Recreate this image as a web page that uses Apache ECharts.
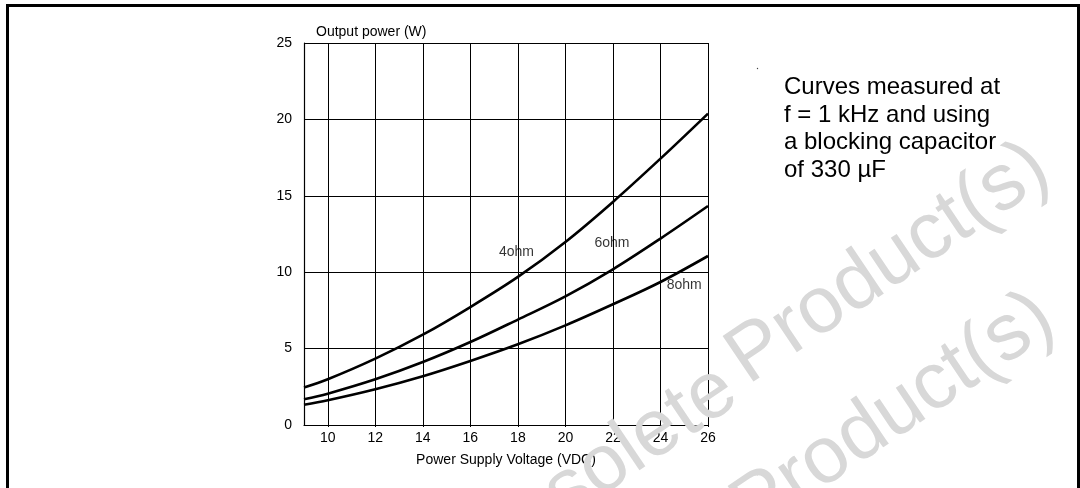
<!DOCTYPE html>
<html>
<head>
<meta charset="utf-8">
<script src="https://cdn.jsdelivr.net/npm/echarts@6/dist/echarts.min.js"></script>
<style>
html,body{margin:0;padding:0;background:#fff;}
#chart{width:1080px;height:488px;}
</style>
</head>
<body>
<div id="chart"></div>
<script>
// ---- data ----
var voltages = [9, 10, 12, 14, 16, 18, 20, 22, 24, 26];
var power4ohm = [2.45, 2.99, 4.34, 5.91, 7.72, 9.69, 11.98, 14.6, 17.43, 20.38];
var power6ohm = [1.68, 2.05, 2.99, 4.12, 5.43, 6.90, 8.42, 10.19, 12.2, 14.33];
var power8ohm = [1.33, 1.62, 2.34, 3.19, 4.19, 5.28, 6.52, 7.90, 9.36, 11.06];
var curveNames = ['4ohm', '6ohm', '8ohm'];
var curveLabelAt = [[17.94, 11.3], [21.96, 11.89], [25.0, 9.14]];
var xTickValues = [10, 12, 14, 16, 18, 20, 22, 24, 26];
var yTickValues = [0, 5, 10, 15, 20, 25];
var xTitle = 'Power Supply Voltage (VDC)';
var yTitle = 'Output power (W)';
var noteLines = ['Curves measured at', 'f = 1 kHz and using', 'a blocking capacitor', 'of 330 \u00b5F'];
var watermarkWords = ['Obsolete', 'Product(s)'];

function pairs(xs, ys) { return xs.map(function (x, i) { return [x, ys[i]]; }); }

var FONT = '"Liberation Sans", Arial, Helvetica, sans-serif';
var chart = echarts.init(document.getElementById('chart'), null, {renderer: 'canvas'});

var lineStyle = {color: '#000', width: 2.6};
var allSeries = [power4ohm, power6ohm, power8ohm].map(function (arr, i) {
  return {
    type: 'line', name: curveNames[i], data: pairs(voltages, arr),
    smooth: 0.35, symbol: 'none', lineStyle: lineStyle, z: 5, silent: true
  };
});
allSeries.push({
  type: 'scatter', name: 'labels', symbolSize: 1, silent: true, z: 6,
  itemStyle: {color: 'rgba(0,0,0,0)'},
  data: curveLabelAt.map(function (p, i) { return [p[0], p[1], curveNames[i]]; }),
  label: {show: true, position: 'inside', formatter: function (p) { return p.value[2]; },
    color: '#000', fontSize: 14, fontFamily: FONT}
});

var noteY0 = 74, noteLH = 27.5;
var wmRot = 34 * Math.PI / 180;
var wmFont = '80px ' + FONT, wmColor = '#d8d8d8';
function watermark(px, py, ox, oy) {
  return [
    {type: 'text', z: 100, x: ox, y: oy, rotation: wmRot,
     style: {text: watermarkWords[0], font: wmFont, fill: wmColor, align: 'right', verticalAlign: 'bottom'}},
    {type: 'text', z: 100, x: px, y: py, rotation: wmRot,
     style: {text: watermarkWords[1], font: wmFont, fill: wmColor, align: 'left', verticalAlign: 'bottom'}}
  ];
}
var graphics = [
  {type: 'polyline', z: 50, shape: {points: [[7.5, 492], [7.5, 5.5], [1078.5, 5.5], [1078.5, 492]]},
   style: {stroke: '#000', lineWidth: 3, fill: null}},
  {type: 'text', z: 40, x: 784, y: noteY0,
   style: {text: noteLines.join('\n'), font: '24px ' + FONT, fill: '#000', lineHeight: noteLH,
           align: 'left', verticalAlign: 'top'}},
  {type: 'circle', z: 40, shape: {cx: 757.5, cy: 68.5, r: 0.7}, style: {fill: '#444'}},
  {type: 'circle', z: 40, shape: {cx: 757.5, cy: 474.5, r: 0.7}, style: {fill: '#444'}}
].concat(watermark(758, 400, 752, 416), watermark(763, 550, 757, 566));

chart.setOption({
  backgroundColor: '#fff',
  animation: false,
  grid: {left: 304, right: 372, top: 43, bottom: 63, containLabel: false, outerBoundsMode: 'none'},
  xAxis: {
    type: 'value', min: 9, max: 26,
    name: xTitle, nameLocation: 'middle', nameGap: 28,
    nameTextStyle: {color: '#000', fontSize: 14, fontFamily: FONT},
    axisLine: {show: true, lineStyle: {color: '#000', width: 1.2}},
    axisTick: {show: true, length: 2, lineStyle: {color: '#000'}, customValues: xTickValues},
    axisLabel: {color: '#000', fontSize: 14, fontFamily: FONT, margin: 6, customValues: xTickValues,
                showMinLabel: true, showMaxLabel: true},
    splitLine: {show: true, lineStyle: {color: '#000', width: 1}}
  },
  yAxis: {
    type: 'value', min: 0, max: 25, interval: 5,
    name: yTitle, nameLocation: 'end', nameGap: 4,
    nameTextStyle: {color: '#000', fontSize: 14, fontFamily: FONT, align: 'left', verticalAlign: 'bottom', padding: [0, 0, 0, 12]},
    axisLine: {show: true, lineStyle: {color: '#000', width: 1.2}},
    axisTick: {show: false},
    axisLabel: {color: '#000', fontSize: 14, fontFamily: FONT, margin: 12,
                formatter: function (v) { return yTickValues.indexOf(v) >= 0 ? String(v) : ''; }},
    splitLine: {show: true, lineStyle: {color: '#000', width: 1}}
  },
  series: allSeries,
  graphic: {elements: graphics}
});
</script>
</body>
</html>
